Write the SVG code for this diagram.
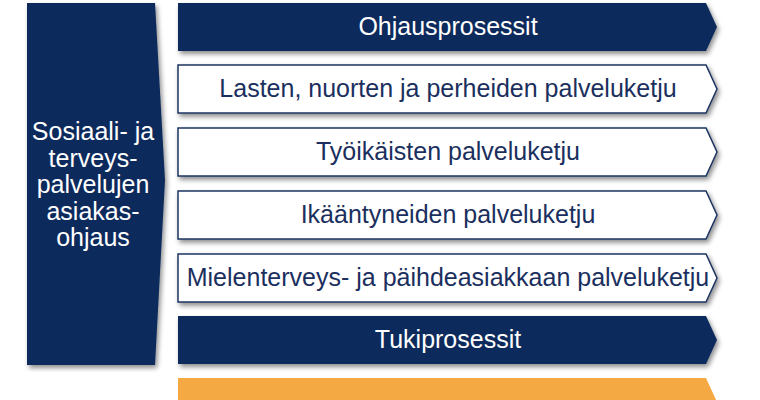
<svg xmlns="http://www.w3.org/2000/svg" width="760" height="400" viewBox="0 0 760 400">
<defs>
<filter id="sh" x="-10%" y="-20%" width="120%" height="150%">
<feGaussianBlur in="SourceAlpha" stdDeviation="2.5"/>
<feOffset dx="2" dy="3" result="b"/>
<feComponentTransfer><feFuncA type="linear" slope="0.45"/></feComponentTransfer>
<feMerge><feMergeNode/><feMergeNode in="SourceGraphic"/></feMerge>
</filter>
</defs>
<style>
.navy{fill:#0b2a5b;}
.box{fill:#ffffff;stroke:#1d3461;stroke-width:1.5;}
.org{fill:#f5a943;}
.t{font-family:"Liberation Sans",Arial,sans-serif;font-size:25px;text-anchor:middle;}
.w{fill:#ffffff;}
.d{fill:#1b2f5e;}
</style>
<rect width="760" height="400" fill="#ffffff"/>
<g id="asiakasohjaus">
<polygon class="navy" filter="url(#sh)" points="27,3 155,3 165,180 155,365 27,365"/>
<text class="t w" font-size="24.5" x="93" y="140">Sosiaali- ja</text>
<text class="t w" font-size="24.5" x="93" y="166.5">terveys-</text>
<text class="t w" font-size="24.5" x="93" y="193">palvelujen</text>
<text class="t w" font-size="24.5" x="93" y="219.5">asiakas-</text>
<text class="t w" font-size="24.5" x="93" y="246">ohjaus</text>
</g>
<g id="ohjausprosessit">
<polygon class="navy" filter="url(#sh)" points="178,3 706,3 717,27 706,51 178,51"/>
<text class="t w" x="448" y="35">Ohjausprosessit</text>
</g>
<g id="lasten">
<polygon class="box" filter="url(#sh)" points="178,65 706,65 717,89 706,113 178,113"/>
<text class="t d" x="448" y="97">Lasten, nuorten ja perheiden palveluketju</text>
</g>
<g id="tyoikaisten">
<polygon class="box" filter="url(#sh)" points="178,128 706,128 717,152 706,176 178,176"/>
<text class="t d" x="448" y="160">Työikäisten palveluketju</text>
</g>
<g id="ikaantyneiden">
<polygon class="box" filter="url(#sh)" points="178,191 706,191 717,215 706,239 178,239"/>
<text class="t d" x="448" y="223">Ikääntyneiden palveluketju</text>
</g>
<g id="mielenterveys">
<polygon class="box" filter="url(#sh)" points="178,254 706,254 717,278 706,302 178,302"/>
<text class="t d" x="448" y="286">Mielenterveys- ja päihdeasiakkaan palveluketju</text>
</g>
<g id="tukiprosessit">
<polygon class="navy" filter="url(#sh)" points="178,316 706,316 717,340 706,364 178,364"/>
<text class="t w" x="448" y="348">Tukiprosessit</text>
</g>
<g id="orange">
<polygon class="org" points="178,378 706,378 717,402 706,426 178,426"/>
</g>
<g id="connectors"/>
</svg>
